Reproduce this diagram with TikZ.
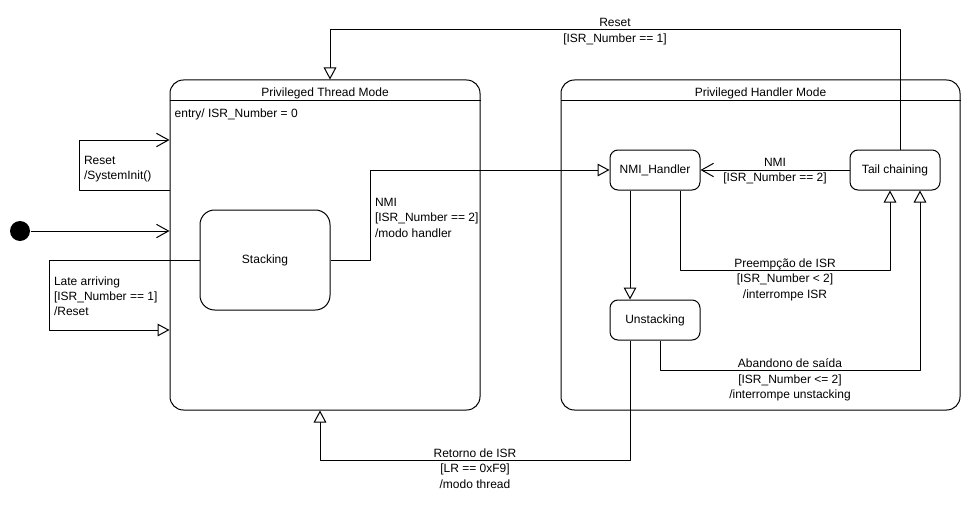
\documentclass[tikz,border=0pt]{standalone}
\usepackage{fontspec}
\setmainfont{Liberation Sans}
\usetikzlibrary{arrows.meta,calc}
\begin{document}
\begin{tikzpicture}[x=0.75pt,y=-0.75pt,font=\fontsize{9}{11.5}\selectfont,line join=round,line width=0.75pt,
  mode/.style={draw,rounded corners=10pt,inner sep=0pt},
  st/.style={draw,rounded corners=6pt,minimum width=67.5pt,minimum height=30pt,inner sep=0pt},
  lbl/.style={align=left,inner sep=3pt},
  vee/.style={-{Straight Barb[length=9pt,width=10pt]}},
  tri/.style={-{Triangle[open,length=9pt,width=9.5pt,fill=white]}}]
\useasboundingbox (0,0) rectangle (970,510);
% composite states
\node[mode,minimum width=232.5pt,minimum height=247.5pt] (thread) at (325,245) {};
\node[mode,minimum width=299.25pt,minimum height=247.5pt] (handler) at (760.5,245) {};
\draw ($(thread.north west)+(0,21)$) -- ($(thread.north east)+(0,21)$);
\draw ($(handler.north west)+(0,21)$) -- ($(handler.north east)+(0,21)$);
\node[lbl] (tname) at ($(thread.north)+(0,13.5)$) {Privileged Thread Mode};
\node[lbl] (hname) at ($(handler.north)+(0,13.5)$) {Privileged Handler Mode};
\node[lbl,anchor=west,inner sep=2pt] (entry) at ($(thread.north west)+(2,35)$) {entry/ ISR\_Number = 0};
% states
\node[circle,fill,minimum size=15pt,inner sep=0pt] (init) at (20,231) {};
\node[draw,rounded corners=11pt,minimum width=97.5pt,minimum height=75pt] (stack) at (265,260) {\raisebox{-1.5pt}{Stacking}};
\node[st] (nmi) at (655,170) {\raisebox{-1.5pt}{NMI\_Handler}};
\node[st] (tail) at (895,170) {\raisebox{-1.5pt}{Tail chaining}};
\node[st] (unstack) at (655,320) {\raisebox{-1.5pt}{Unstacking}};
% transitions
\draw[vee] (init) -- (init -| thread.west);
\draw[vee] ($(thread.west)+(0,-55)$) -- ++(-90,0) |- node[lbl,pos=0.25,right,yshift=-3pt]{Reset\\/SystemInit()} ($(thread.west)+(0,-105)$);
\draw[tri] (stack.west) -- ++(-150,0) |- node[lbl,pos=0.25,right,yshift=-1pt]{Late arriving\\{}[ISR\_Number == 1]\\/Reset} ($(thread.west)+(0,85)$);
\draw[tri] (stack.east) -- ++(40,0) |- node[lbl,pos=0.25,right,yshift=-2pt]{NMI\\{}[ISR\_Number == 2]\\/modo handler} (nmi.west);
\draw[vee] (tail) -- node[lbl,align=center,yshift=-1pt]{NMI\\{}[ISR\_Number == 2]} (nmi);
\draw[tri] ($(nmi.south)+(-25,0)$) -- ($(unstack.north)+(-25,0)$);
\draw[tri] ($(nmi.south)+(25,0)$) -- ++(0,80) -| node[lbl,align=center,pos=0.25,yshift=-7pt]{Preempção de ISR\\{}[ISR\_Number < 2]\\/interrompe ISR} ($(tail.south)+(-5,0)$);
\draw[tri] ($(unstack.south)+(5,0)$) -- ++(0,30) -| node[lbl,align=center,pos=0.25,yshift=-7pt]{Abandono de saída\\{}[ISR\_Number <= 2]\\/interrompe unstacking} ($(tail.south)+(25,0)$);
\draw[tri] ($(unstack.south)+(-25,0)$) -- ++(0,120) -| node[lbl,align=center,pos=0.25,yshift=-6pt]{Retorno de ISR\\{}[LR == 0xF9]\\/modo thread} ($(thread.south)+(-5,0)$);
\draw[tri] ($(tail.north)+(5,0)$) -- ++(0,-120) -| node[lbl,align=center,pos=0.25,yshift=-1.5pt]{Reset\\{}[ISR\_Number == 1]} ($(thread.north)+(5,0)$);
\end{tikzpicture}
\end{document}
